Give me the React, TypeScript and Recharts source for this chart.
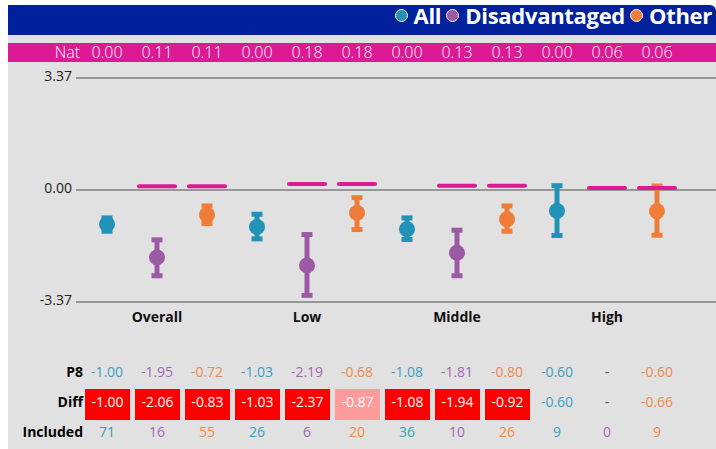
import React from 'react';
import { ComposedChart, Scatter, XAxis, YAxis, CartesianGrid, ErrorBar } from 'recharts';

// ---- data ----
const groups = ['Overall', 'Low', 'Middle', 'High'];
const seriesNames = ['All', 'Disadvantaged', 'Other'];

// per series (All, Disadvantaged, Other) x per group (Overall, Low, Middle, High)
const natAll = [0.0, 0.0, 0.0, 0.0];
const natDisadvantaged = [0.11, 0.18, 0.13, 0.06];
const natOther = [0.11, 0.18, 0.13, 0.06];

const p8All = [-1.0, -1.03, -1.08, -0.6];
const p8Disadvantaged = [-1.95, -2.19, -1.81, null];
const p8Other = [-0.72, -0.68, -0.8, -0.6];

const diffAll = [-1.0, -1.03, -1.08, -0.6];
const diffDisadvantaged = [-2.06, -2.37, -1.94, null];
const diffOther = [-0.83, -0.87, -0.92, -0.66];

// 'sig' = red cell, 'weak' = light red cell, 'none' = plain text
const diffFlagAll = ['sig', 'sig', 'sig', 'none'];
const diffFlagDisadvantaged = ['sig', 'sig', 'sig', 'none'];
const diffFlagOther = ['sig', 'weak', 'sig', 'none'];

const includedAll = [71, 26, 36, 9];
const includedDisadvantaged = [16, 6, 10, 0];
const includedOther = [55, 20, 26, 9];

// plotted point and confidence interval
const meanAll = [-1.03, -1.11, -1.18, -0.63];
const meanDisadvantaged = [-2.03, -2.27, -1.89, null];
const meanOther = [-0.75, -0.69, -0.88, -0.64];

const lowAll = [-1.24, -1.47, -1.49, -1.37];
const lowDisadvantaged = [-2.58, -3.17, -2.58, null];
const lowOther = [-1.01, -1.19, -1.24, -1.36];

const highAll = [-0.84, -0.73, -0.84, 0.13];
const highDisadvantaged = [-1.5, -1.34, -1.21, null];
const highOther = [-0.48, -0.23, -0.48, 0.12];

const yTicks = [-3.37, 0, 3.37];

// ---- styles ----
const FONT = "'Open Sans', sans-serif";
const seriesColor = ['#2192b8', '#9c5aa5', '#ef7d39'];
const textColor = ['#3c9ec4', '#a468b3', '#f08a4c'];
const PINK = '#dc1a93';
const BLUE = '#00209c';
const PANEL = '#e1e1e1';

const natS = [natAll, natDisadvantaged, natOther];
const p8S = [p8All, p8Disadvantaged, p8Other];
const diffS = [diffAll, diffDisadvantaged, diffOther];
const flagS = [diffFlagAll, diffFlagDisadvantaged, diffFlagOther];
const incS = [includedAll, includedDisadvantaged, includedOther];
const meanS = [meanAll, meanDisadvantaged, meanOther];
const lowS = [lowAll, lowDisadvantaged, lowOther];
const highS = [highAll, highDisadvantaged, highOther];

const columns = groups.flatMap((g, gi) =>
  seriesNames.map((s, si) => ({
    x: gi * 3 + si,
    y: 0,
    gi,
    si,
    nat: natS[si][gi],
    p8: p8S[si][gi],
    diff: diffS[si][gi],
    flag: flagS[si][gi],
    inc: incS[si][gi],
    mean: meanS[si][gi],
    low: lowS[si][gi],
    high: highS[si][gi],
  }))
);

const markerData = (si: number) =>
  columns
    .filter((c) => c.si === si && c.mean != null)
    .map((c) => ({ x: c.x, y: c.mean, err: [(c.mean as number) - (c.low as number), (c.high as number) - (c.mean as number)] }));

const natLineData = columns.filter((c) => c.si !== 0).map((c) => ({ x: c.x, y: c.nat }));

const NAT_BASE = 58;
const P8_BASE = 377;
const DIFF_BASE = 407;
const INC_BASE = 437;

const fmt = (v: number) => v.toFixed(2);

const NatText = (p: any) => (
  <text x={p.cx} y={NAT_BASE} textAnchor="middle" fill="#fff" fontSize={16} fontFamily={FONT} fontWeight={300}>
    {fmt(p.payload.nat)}
  </text>
);

const P8Text = (p: any) => {
  const v = p.payload.p8;
  return (
    <text x={p.cx} y={P8_BASE} textAnchor="middle" fill={v == null ? '#555' : textColor[p.payload.si]} fontSize={14} fontFamily={FONT}>
      {v == null ? '-' : fmt(v)}
    </text>
  );
};

const DiffCell = (p: any) => {
  const v = p.payload.diff;
  const flag = p.payload.flag;
  if (v == null) {
    return (
      <text x={p.cx} y={DIFF_BASE} textAnchor="middle" fill="#555" fontSize={14} fontFamily={FONT}>
        -
      </text>
    );
  }
  if (flag === 'none') {
    return (
      <text x={p.cx} y={DIFF_BASE} textAnchor="middle" fill={textColor[p.payload.si]} fontSize={14} fontFamily={FONT}>
        {fmt(v)}
      </text>
    );
  }
  return (
    <g>
      <rect x={p.cx - 22} y={389} width={45} height={31} fill={flag === 'sig' ? '#ff0000' : '#ff9b9b'} />
      <text x={p.cx + 0.5} y={DIFF_BASE} textAnchor="middle" fill="#fff" fontSize={14} fontFamily={FONT}>
        {fmt(v)}
      </text>
    </g>
  );
};

const IncText = (p: any) => (
  <text x={p.cx} y={INC_BASE} textAnchor="middle" fill={textColor[p.payload.si]} fontSize={14} fontFamily={FONT}>
    {p.payload.inc}
  </text>
);

const NatLine = (p: any) => (
  <line x1={p.cx - 18} x2={p.cx + 18} y1={p.cy} y2={p.cy} stroke={PINK} strokeWidth={4} strokeLinecap="round" />
);

const dot = (color: string) => (p: any) => <circle cx={p.cx} cy={p.cy} r={8} fill={color} />;

const rowLabel = (text: string, top: number, right: number, size: number, bold: boolean, color: string) => (
  <div
    style={{
      position: 'absolute',
      top,
      right,
      fontSize: size,
      lineHeight: `${size}px`,
      fontWeight: bold ? 700 : 300,
      color,
      fontFamily: FONT,
      whiteSpace: 'nowrap',
    }}
  >
    {text}
  </div>
);

export default function App() {
  return (
    <div style={{ position: 'absolute', left: 0, top: 0, width: 716, height: 449, background: '#fff', overflow: 'hidden', fontFamily: FONT }}>
      <div style={{ position: 'absolute', left: 8, top: 5, width: 708, height: 30, background: BLUE, borderTopRightRadius: 6 }} />
      <div style={{ position: 'absolute', left: 8, top: 35, width: 708, height: 414, background: PANEL }} />
      <div style={{ position: 'absolute', left: 8, top: 43, width: 708, height: 19, background: PINK }} />

      {/* legend */}
      <div
        style={{
          position: 'absolute',
          top: 4,
          right: 4,
          height: 22,
          display: 'flex',
          alignItems: 'center',
        }}
      >
        {seriesNames.map((s, i) => (
          <div key={s} style={{ display: 'flex', alignItems: 'center', marginLeft: i === 0 ? 0 : 5 }}>
            <div
              style={{
                width: 11,
                height: 11,
                borderRadius: '50%',
                background: seriesColor[i],
                border: '1.5px solid #fff',
                marginRight: 6,
              }}
            />
            <span style={{ color: '#fff', fontWeight: 700, fontSize: 22, lineHeight: '22px', fontFamily: FONT, letterSpacing: -0.3 }}>{s}</span>
          </div>
        ))}
      </div>

      {rowLabel('Nat', 44, 636, 16, false, '#fff')}
      {rowLabel('P8', 365, 633, 14, true, '#000')}
      {rowLabel('Diff', 395, 633, 14, true, '#000')}
      {rowLabel('Included', 425, 633, 14, true, '#000')}

      <div style={{ position: 'absolute', left: 0, top: 0 }}>
        <ComposedChart width={716} height={449} margin={{ top: 78, right: 0, bottom: 117, left: 0 }}>
          <CartesianGrid horizontal vertical={false} stroke="#979797" strokeWidth={2} />
          <XAxis
            type="number"
            dataKey="x"
            domain={[-0.62, 12.18]}
            ticks={[1, 4, 7, 10]}
            interval={0}
            tickFormatter={(v: number) => groups[Math.round((v - 1) / 3)]}
            axisLine={false}
            tickLine={false}
            tickSize={0}
            tickMargin={10}
            height={30}
            tick={{ fontSize: 14, fontWeight: 700, fill: '#111', fontFamily: FONT }}
          />
          <YAxis
            type="number"
            domain={[-3.37, 3.37]}
            ticks={yTicks}
            interval={0}
            tickFormatter={(v: number) => v.toFixed(2)}
            axisLine={false}
            tickLine={false}
            tickSize={0}
            tickMargin={4}
            width={76}
            tick={{ fontSize: 14, fill: '#222', fontFamily: FONT, dy: -2 }}
          />
          {seriesNames.map((s, si) => (
            <Scatter key={s} name={s} data={markerData(si)} dataKey="y" isAnimationActive={false} shape={dot(seriesColor[si])}>
              <ErrorBar dataKey="err" direction="y" width={5.5} strokeWidth={5} stroke={seriesColor[si]} />
            </Scatter>
          ))}
          <Scatter name="Nat" data={natLineData} dataKey="y" isAnimationActive={false} shape={NatLine} />
          <Scatter name="natRow" data={columns} dataKey="y" isAnimationActive={false} shape={NatText} />
          <Scatter name="p8Row" data={columns} dataKey="y" isAnimationActive={false} shape={P8Text} />
          <Scatter name="diffRow" data={columns} dataKey="y" isAnimationActive={false} shape={DiffCell} />
          <Scatter name="incRow" data={columns} dataKey="y" isAnimationActive={false} shape={IncText} />
        </ComposedChart>
      </div>
    </div>
  );
}
